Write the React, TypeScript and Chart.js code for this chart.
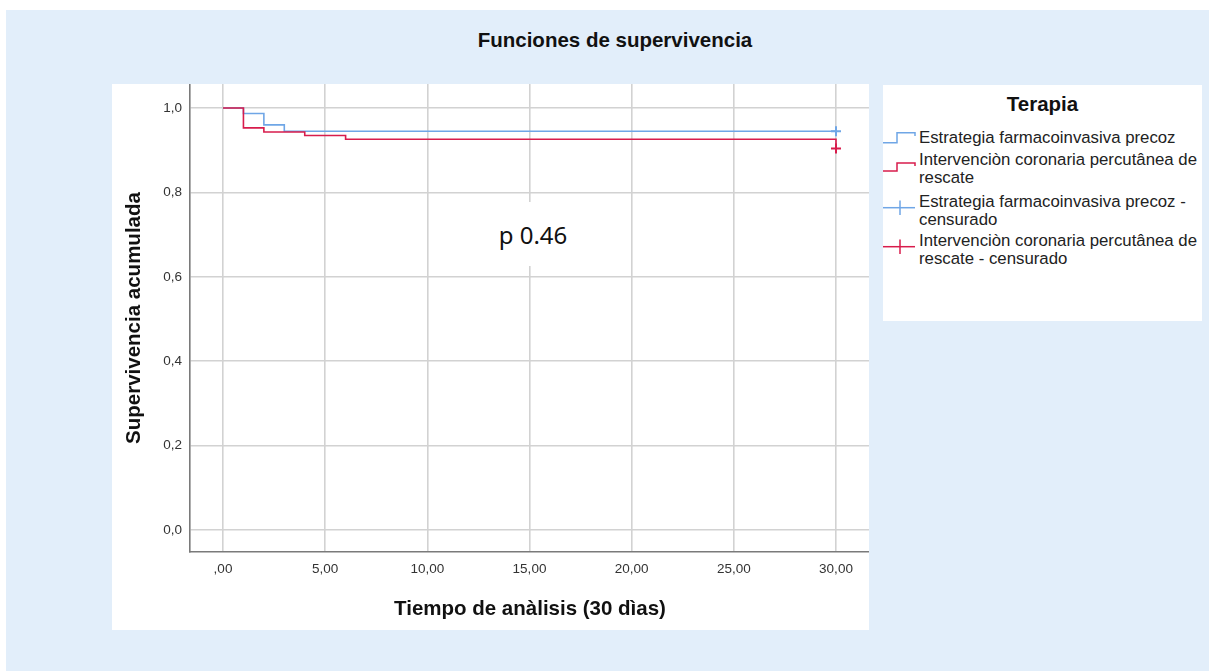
import React, { useEffect, useRef } from "react";
import { Chart, registerables } from "chart.js";

Chart.register(...registerables);

// ---- data ----
const blueTimes = [0, 1, 2, 3, 30];
const blueSurv = [1.0, 0.987, 0.96, 0.945, 0.945];
const redTimes = [0, 1, 2, 4, 6, 30];
const redSurv = [1.0, 0.953, 0.943, 0.935, 0.926, 0.904];
const blueCensorTimes = [30];
const blueCensorSurv = [0.945];
const redCensorTimes = [30];
const redCensorSurv = [0.904];

const xTickValues = [0, 5, 10, 15, 20, 25, 30];
const xTickLabels = [",00", "5,00", "10,00", "15,00", "20,00", "25,00", "30,00"];
const yTickValues = [0, 0.2, 0.4, 0.6, 0.8, 1.0];
const yTickLabels = ["0,0", "0,2", "0,4", "0,6", "0,8", "1,0"];

const seriesNames = [
  "Estrategia farmacoinvasiva precoz",
  "Intervenciòn coronaria percutânea de rescate",
  "Estrategia farmacoinvasiva precoz - censurado",
  "Intervenciòn coronaria percutânea de rescate - censurado",
];

const BLUE = "#6fa6e6";
const RED = "#d81c4c";
const FONT = "'Liberation Sans', Arial, sans-serif";

function pts(xs: number[], ys: number[]) {
  return xs.map((x, i) => ({ x, y: ys[i] }));
}

function fixBox(s: any) {
  s.paddingTop = 0;
  s.paddingBottom = 0;
  s.paddingLeft = 0;
  s.paddingRight = 0;
}

export default function App() {
  const ref = useRef<HTMLCanvasElement | null>(null);

  useEffect(() => {
    document.body.style.margin = "0";
    const ctx = ref.current!;
    const chart = new Chart(ctx, {
      type: "line",
      data: {
        datasets: [
          {
            label: seriesNames[0],
            data: pts(blueTimes, blueSurv),
            borderColor: BLUE,
            borderWidth: 1.6,
            stepped: "before",
            pointRadius: 0,
            fill: false,
            order: 2,
          },
          {
            label: seriesNames[1],
            data: pts(redTimes, redSurv),
            borderColor: RED,
            borderWidth: 1.6,
            stepped: "before",
            pointRadius: 0,
            fill: false,
            order: 1,
          },
          {
            label: seriesNames[2],
            data: pts(blueCensorTimes, blueCensorSurv),
            borderColor: BLUE,
            showLine: false,
            pointStyle: "cross",
            pointRadius: 5,
            pointBorderWidth: 2,
            pointBorderColor: BLUE,
            order: 0,
          },
          {
            label: seriesNames[3],
            data: pts(redCensorTimes, redCensorSurv),
            borderColor: RED,
            showLine: false,
            pointStyle: "cross",
            pointRadius: 5,
            pointBorderWidth: 2,
            pointBorderColor: RED,
            order: 0,
          },
        ],
      },
      options: {
        animation: false,
        responsive: false,
        maintainAspectRatio: false,
        layout: { padding: 0, autoPadding: false },
        plugins: {
          legend: { display: false },
          title: { display: false },
          tooltip: { enabled: false },
        },
        scales: {
          x: {
            type: "linear",
            min: -1.615,
            max: 31.615,
            afterFit: (s: any) => {
              s.height = 78;
              fixBox(s);
            },
            afterBuildTicks: (s: any) => {
              s.ticks = xTickValues.map((v) => ({ value: v }));
            },
            ticks: {
              padding: 9,
              color: "#333",
              font: { family: FONT, size: 13.5 },
              maxRotation: 0,
              autoSkip: false,
              callback: (v: any) => {
                const i = xTickValues.indexOf(Number(v));
                return i >= 0 ? xTickLabels[i] : "";
              },
            },
            grid: { color: "#d2d2d2", lineWidth: 1.6, drawTicks: false },
            border: { color: "#7a7a7a", width: 1.6 },
          },
          y: {
            type: "linear",
            min: -0.0521,
            max: 1.0569,
            afterFit: (s: any) => {
              s.width = 78;
              fixBox(s);
            },
            afterBuildTicks: (s: any) => {
              s.ticks = yTickValues.map((v) => ({ value: v }));
            },
            ticks: {
              padding: 8,
              color: "#333",
              font: { family: FONT, size: 13.5 },
              autoSkip: false,
              callback: (v: any) => {
                const i = yTickValues.findIndex((t) => Math.abs(t - Number(v)) < 1e-6);
                return i >= 0 ? yTickLabels[i] : "";
              },
            },
            grid: { color: "#d2d2d2", lineWidth: 1.6, drawTicks: false },
            border: { color: "#7a7a7a", width: 1.6 },
          },
        },
      },
    } as any);
    return () => chart.destroy();
  }, []);

  const legendText: React.CSSProperties = {
    position: "absolute",
    left: 919 - 883,
    fontFamily: FONT,
    fontSize: 16.8,
    lineHeight: "17.5px",
    color: "#222",
    whiteSpace: "nowrap",
  };

  return (
    <div
      style={{
        position: "fixed",
        left: 0,
        top: 0,
        width: 1209,
        height: 671,
        background: "#ffffff",
        overflow: "hidden",
      }}
    >
      <div
        style={{
          position: "absolute",
          left: 6,
          top: 10,
          width: 1203,
          height: 661,
          background: "#e2eefa",
        }}
      />
      <div
        style={{
          position: "absolute",
          left: 0,
          width: 1230,
          top: 28,
          textAlign: "center",
          fontFamily: FONT,
          fontWeight: "bold",
          fontSize: 20.5,
          color: "#111",
        }}
      >
        Funciones de supervivencia
      </div>
      <div
        style={{
          position: "absolute",
          left: 112,
          top: 84,
          width: 757,
          height: 546,
          background: "#ffffff",
        }}
      >
        <canvas ref={ref} width={757} height={546} style={{ display: "block" }} />
      </div>
      {/* p-value label */}
      <div
        style={{
          position: "absolute",
          left: 492,
          top: 202,
          width: 82,
          height: 64,
          background: "#ffffff",
          display: "flex",
          alignItems: "center",
          justifyContent: "center",
          fontFamily: "'Noto Sans', 'Open Sans', sans-serif",
          fontSize: 24,
          color: "#111",
        }}
      >
        p 0.46
      </div>
      {/* axis titles */}
      <div
        style={{
          position: "absolute",
          left: 230,
          width: 600,
          top: 596,
          textAlign: "center",
          fontFamily: FONT,
          fontWeight: "bold",
          fontSize: 20.5,
          color: "#111",
        }}
      >
        Tiempo de anàlisis (30 dìas)
      </div>
      <div
        style={{
          position: "absolute",
          left: 133 - 200,
          top: 318 - 12,
          width: 400,
          height: 24,
          lineHeight: "24px",
          textAlign: "center",
          transform: "rotate(-90deg)",
          fontFamily: FONT,
          fontWeight: "bold",
          fontSize: 20.5,
          color: "#111",
        }}
      >
        Supervivencia acumulada
      </div>
      {/* legend */}
      <div
        style={{
          position: "absolute",
          left: 883,
          top: 85,
          width: 319,
          height: 236,
          background: "#ffffff",
        }}
      >
        <div
          style={{
            position: "absolute",
            left: 0,
            width: 319,
            top: 7,
            textAlign: "center",
            fontFamily: FONT,
            fontWeight: "bold",
            fontSize: 20.5,
            color: "#111",
          }}
        >
          Terapia
        </div>
        <svg
          width={40}
          height={236}
          style={{ position: "absolute", left: 0, top: 0 }}
        >
          <polyline
            points="0,57.7 14,57.7 14,47.7 32,47.7 32,51"
            fill="none"
            stroke={BLUE}
            strokeWidth={1.5}
          />
          <polyline
            points="0,86 14,86 14,78 32,78 32,81"
            fill="none"
            stroke={RED}
            strokeWidth={1.5}
          />
          <line x1={0} y1={122.7} x2={32} y2={122.7} stroke={BLUE} strokeWidth={1.5} />
          <line x1={17} y1={115.5} x2={17} y2={130} stroke={BLUE} strokeWidth={1.5} />
          <line x1={0} y1={161.7} x2={32} y2={161.7} stroke={RED} strokeWidth={1.5} />
          <line x1={17} y1={154.5} x2={17} y2={169} stroke={RED} strokeWidth={1.5} />
        </svg>
        <div style={{ ...legendText, top: 138 - 85 - 9 }}>{seriesNames[0]}</div>
        <div style={{ ...legendText, top: 160 - 85 - 9 }}>
          Intervenciòn coronaria percutânea de
          <br />
          rescate
        </div>
        <div style={{ ...legendText, top: 202 - 85 - 9 }}>
          Estrategia farmacoinvasiva precoz -
          <br />
          censurado
        </div>
        <div style={{ ...legendText, top: 241 - 85 - 9 }}>
          Intervenciòn coronaria percutânea de
          <br />
          rescate - censurado
        </div>
      </div>
    </div>
  );
}
